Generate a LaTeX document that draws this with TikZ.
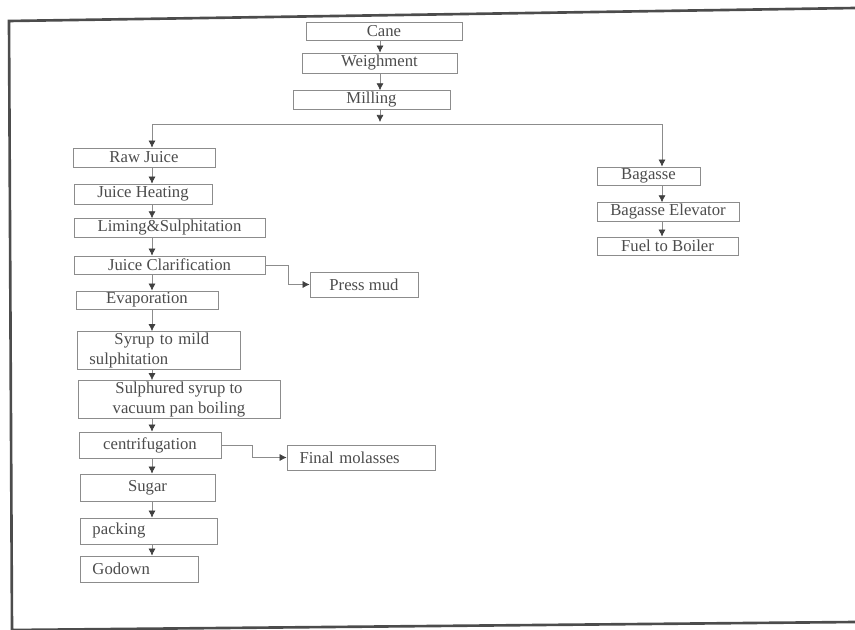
\documentclass[tikz,border=0pt]{standalone}
\usepackage{fontspec}
\setmainfont{Liberation Serif}
\usetikzlibrary{arrows.meta}
\definecolor{linegray}{gray}{0.55}
\definecolor{textgray}{gray}{0.3}
\tikzset{
  stage/.style={draw=linegray, thin, text=textgray, font=\fontsize{9.5}{11}\selectfont, inner sep=1pt, align=center},
  lstage/.style={stage, align=left, inner xsep=2.5mm},
  flow/.style={draw=linegray, thin, -{Latex[length=4pt,width=4pt,color=black!75]}},
  link/.style={draw=linegray, thin}
}
\begin{document}
\begin{tikzpicture}[x=0.2mm,y=-0.2mm]
\useasboundingbox (0,0) rectangle (855,630);

% page frame of the scan
\draw[line width=1.5pt, black!70] (855,8) -- (9,21) -- (12,630) -- (855,622);

% main line
\node[stage, minimum width=31.2mm, minimum height=3.6mm] (cane) at (384,31) {Cane};
\node[stage, minimum width=31mm, minimum height=4mm] (weigh) at (379.5,63) {Weighment};
\node[stage, minimum width=31.4mm, minimum height=3.6mm] (mill) at (371.5,100) {Milling};

% juice side
\node[stage, minimum width=28.4mm, minimum height=3.8mm] (raw) at (144,157.5) {Raw Juice};
\node[stage, minimum width=27.6mm, minimum height=4mm] (heat) at (143,194) {Juice Heating};
\node[stage, minimum width=38.2mm, minimum height=3.6mm] (lime) at (169.5,228) {Liming\&Sulphitation};
\node[stage, minimum width=38.2mm, minimum height=3.6mm] (clar) at (169.5,265) {Juice Clarification};
\node[stage, minimum width=21.6mm, minimum height=5mm] (press) at (364,284.5) {Press mud};
\node[stage, minimum width=28.4mm, minimum height=3.6mm] (evap) at (147,300) {Evaporation};
\node[lstage, text width=27.6mm, minimum height=7mm] (syrup) at (158.5,350.5) {\hspace*{5mm}Syrup to mild\\sulphitation};
\node[stage, minimum width=40.4mm, minimum height=7.4mm] (sulph) at (179,399.5) {Sulphured syrup to\\vacuum pan boiling};
\node[stage, minimum width=28.4mm, minimum height=5.2mm] (cent) at (150,445) {centrifugation};
\node[lstage, text width=24.6mm, minimum height=5mm] (mol) at (361,457.5) {Final molasses};
\node[stage, minimum width=27mm, minimum height=5.4mm] (sugar) at (147.5,487.5) {Sugar};
\node[lstage, text width=22.4mm, minimum height=5.2mm] (pack) at (148.5,531) {packing};
\node[lstage, text width=18.6mm, minimum height=5.2mm] (godown) at (139,569) {Godown};

% bagasse side
\node[stage, minimum width=20.6mm, minimum height=3.6mm] (bag) at (648.5,176) {Bagasse};
\node[stage, minimum width=28.4mm, minimum height=3.6mm] (elev) at (668,212) {Bagasse Elevator};
\node[stage, minimum width=28.2mm, minimum height=3.6mm] (fuel) at (667.5,246) {Fuel to Boiler};

% connectors
\coordinate (mid) at (380,122);
\coordinate (lcol) at (152,124);
\coordinate (rcol) at (662,124);
\draw[flow] (cane.south -| mid) -- (weigh.north -| mid);
\draw[flow] (weigh.south -| mid) -- (mill.north -| mid);
\draw[flow] (mill.south -| mid) -- (mid);
\draw[link] (lcol) -- (rcol);
\draw[flow] (lcol) -- (raw.north -| lcol);
\draw[flow] (rcol) -- (bag.north -| rcol);
\foreach \a/\b in {raw/heat, heat/lime, lime/clar, clar/evap, evap/syrup, syrup/sulph, sulph/cent, cent/sugar, sugar/pack, pack/godown}
  \draw[flow] (\a.south -| lcol) -- (\b.north -| lcol);
\foreach \a/\b in {bag/elev, elev/fuel}
  \draw[flow] (\a.south -| rcol) -- (\b.north -| rcol);
\draw[flow] (clar.east) -- ++(23,0) |- (press.west);
\draw[flow] (cent.east) -- ++(31,0) |- (mol.west);
\end{tikzpicture}
\end{document}
